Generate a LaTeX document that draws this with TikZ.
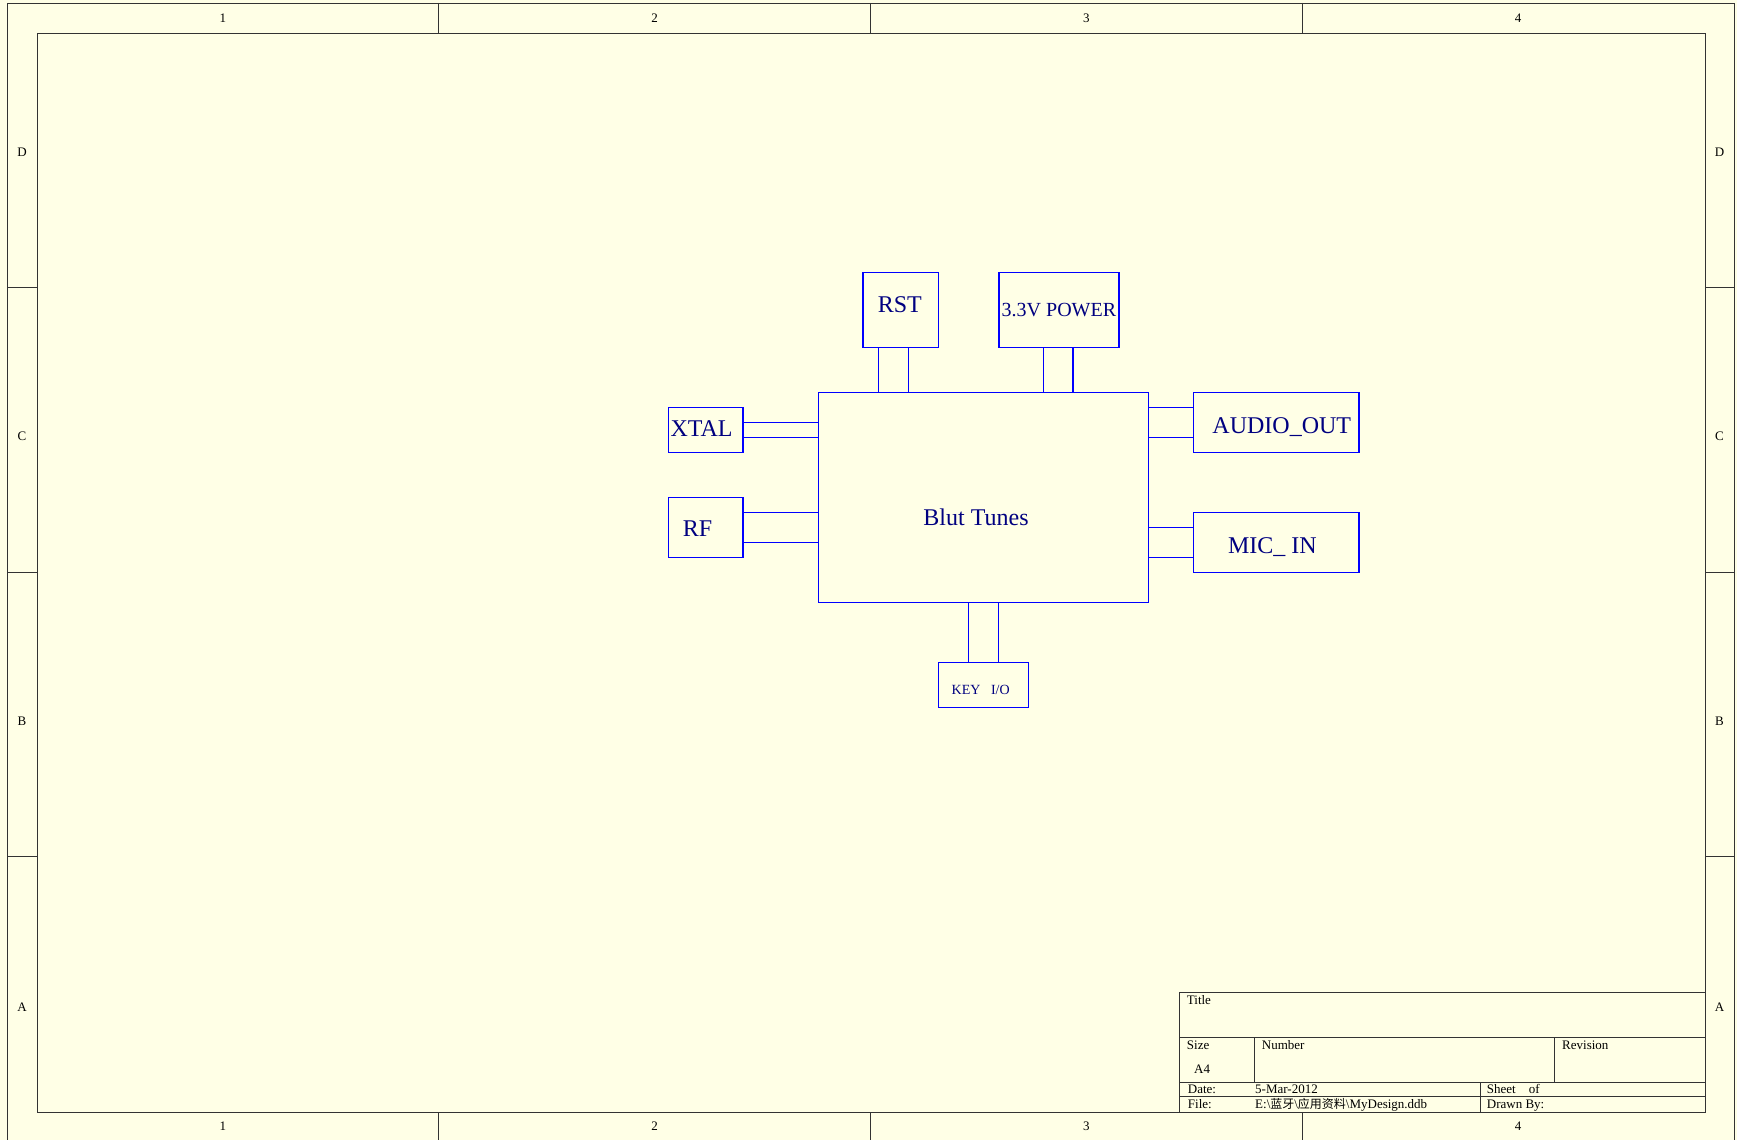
\documentclass[tikz,border=0pt]{standalone}
\usepackage{fontspec}
\setmainfont{Liberation Serif}
\newfontfamily\cjk{Noto Sans CJK SC}
\usetikzlibrary{positioning, calc}
\usepackage{xcolor}
\definecolor{sheetbg}{RGB}{255,255,230}
\definecolor{wireblue}{RGB}{0,0,255}
\definecolor{textnavy}{RGB}{0,0,128}

\begin{document}
\begin{tikzpicture}[x=1pt, y=-1pt,
  sheetline/.style={draw=black!80, line width=0.9pt},
  blk/.style={draw=wireblue, line width=1.5pt, inner sep=0pt, text=textnavy, font=\fontsize{24}{28}\selectfont},
  blktxt/.style={text=textnavy, inner sep=0pt, font=\fontsize{24}{28}\selectfont},
  wire/.style={draw=wireblue, line width=1.5pt},
  zone/.style={inner sep=0pt, font=\fontsize{13}{15}\selectfont},
  tb/.style={anchor=base west, inner sep=0pt, font=\fontsize{13}{15}\selectfont}]
  \fill[sheetbg] (0,0) rectangle (1737,1140);
  \useasboundingbox (0,0) rectangle (1737,1140);

  % sheet frame and zones
  \draw[sheetline] (7,3) rectangle (1734,1141.4);
  \draw[sheetline] (37,33) rectangle (1705,1112);
  \foreach \x in {438.75, 870.5, 1302.25} {
    \draw[sheetline] (\x,3) -- (\x,33);
    \draw[sheetline] (\x,1112) -- (\x,1141.4);
  }
  \foreach \y in {287.6, 572.2, 856.8} {
    \draw[sheetline] (7,\y) -- (37,\y);
    \draw[sheetline] (1705,\y) -- (1734,\y);
  }
  \foreach \x/\n in {222.9/1, 654.6/2, 1086.4/3, 1518.1/4} {
    \node[zone] at (\x,18.5) {\n};
    \node[zone] at (\x,1126.5) {\n};
  }
  \foreach \y/\n in {152/D, 436.5/C, 721/B, 1007/A} {
    \node[zone] at (22,\y) {\n};
    \node[zone] at (1719.5,\y) {\n};
  }

  % title block
  \draw[sheetline] (1179,1112) -- (1179,992.3) -- (1705,992.3);
  \draw[sheetline] (1179,1037.3) -- (1705,1037.3);
  \draw[sheetline] (1179,1082.3) -- (1705,1082.3);
  \draw[sheetline] (1179,1096.8) -- (1705,1096.8);
  \draw[sheetline] (1254,1037.3) -- (1254,1082.3);
  \draw[sheetline] (1554.3,1037.3) -- (1554.3,1082.3);
  \draw[sheetline] (1480.7,1082.3) -- (1480.7,1112);
  \node[tb] (ttitle) at (1186.7,1004) {Title};
  \node[tb] (tsize) at (1186.7,1049) {Size};
  \node[tb] (tsizev) at (1194,1073.3) {A4};
  \node[tb] (tnum) at (1261.7,1049) {Number};
  \node[tb] (trev) at (1562,1049) {Revision};
  \node[tb] (tdate) at (1187.7,1093.3) {Date:};
  \node[tb] (tdatev) at (1255,1093.3) {5-Mar-2012};
  \node[tb] (tsheet) at (1486.7,1093.3) {Sheet\quad of};
  \node[tb] (tfile) at (1187.7,1108) {File:};
  \node[tb] (tfilev) at (1255,1108) {E:\textbackslash{\cjk\fontsize{12}{14}\selectfont 蓝牙}\textbackslash{\cjk\fontsize{12}{14}\selectfont 应用资料}\textbackslash MyDesign.ddb};
  \node[tb] (tdrawn) at (1486.7,1108) {Drawn By:};

  % blocks
  \node[blk, minimum width=330.3, minimum height=209.6] (main) at (983.5,497.5) {};
  \node[blktxt] (mainlbl) at ([shift={(-7.5,20)}]main.center) {Blut Tunes};
  \node[blk, minimum width=75.1, minimum height=75] (rst) at (900.75,310.2) {};
  \node[blktxt] (rstlbl) at ([shift={(-1,-6)}]rst.center) {RST};
  \node[blk, minimum width=120.3, minimum height=75, font=\fontsize{20}{24}\selectfont] (pwr) at (1058.9,310.2) {3.3V POWER};
  \node[blk, minimum width=74.6, minimum height=45] (xtal) at (705.6,430.2) {};
  \node[blktxt] (xtallbl) at ([shift={(-4,-2)}]xtal.center) {XTAL};
  \node[blk, minimum width=74.6, minimum height=59.6] (rf) at (705.6,527.5) {};
  \node[blktxt] (rflbl) at ([shift={(-8,1)}]rf.center) {RF};
  \node[blk, minimum width=165.1, minimum height=60] (aout) at (1276.2,422.7) {};
  \node[blktxt] (aoutlbl) at ([shift={(5.6,4)}]aout.center) {AUDIO\_OUT};
  \node[blk, minimum width=165.1, minimum height=59.6] (micin) at (1276.2,542.5) {};
  \node[blktxt] (micinlbl) at ([shift={(-3.8,5)}]micin.center) {MIC\_ IN};
  \node[blk, minimum width=90.1, minimum height=45] (keyio) at (983.4,684.8) {};
  \node[blktxt, font=\fontsize{14}{16}\selectfont] (keyiolbl) at ([shift={(-2.7,5)}]keyio.center) {KEY~~~I/O};

  % connections
  \foreach \dx in {-22.4, 7.7}
    \draw[wire] ([xshift=\dx]rst.south) -- ([xshift=\dx]rst.south |- main.north);
  \foreach \dx in {-15.4, 14.3}
    \draw[wire] ([xshift=\dx]pwr.south) -- ([xshift=\dx]pwr.south |- main.north);
  \foreach \dx in {-15, 15}
    \draw[wire] ([xshift=\dx]keyio.north) -- ([xshift=\dx]keyio.north |- main.south);
  \foreach \dy in {7.5, -7.1}
    \draw[wire] ([yshift=\dy]xtal.east) -- ([yshift=\dy]xtal.east -| main.west);
  \foreach \dy in {15, -15}
    \draw[wire] ([yshift=\dy]rf.east) -- ([yshift=\dy]rf.east -| main.west);
  \foreach \dy in {15, -15}
    \draw[wire] ([yshift=\dy]aout.west) -- ([yshift=\dy]aout.west -| main.east);
  \foreach \dy in {15, -15}
    \draw[wire] ([yshift=\dy]micin.west) -- ([yshift=\dy]micin.west -| main.east);
\end{tikzpicture}
\end{document}
